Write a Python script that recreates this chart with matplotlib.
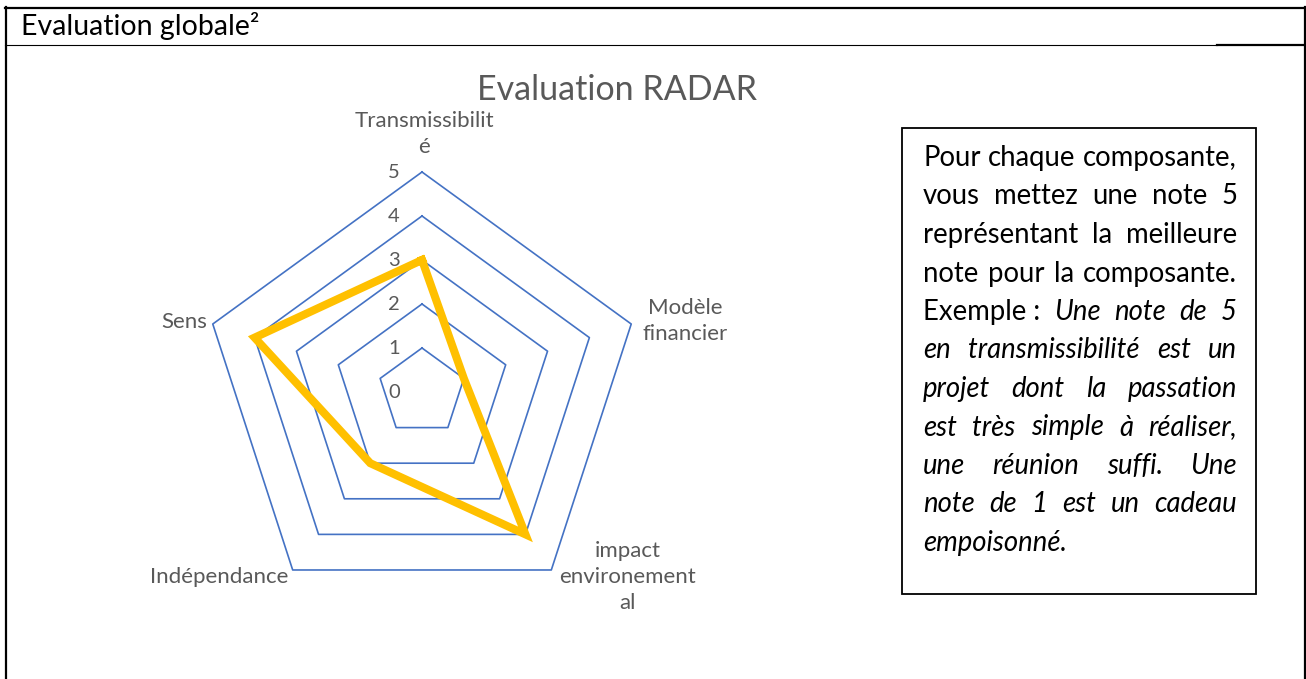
import matplotlib
matplotlib.use("Agg")
import matplotlib.pyplot as plt
import numpy as np
from matplotlib.lines import Line2D
from matplotlib.patches import Rectangle

# données du radar
categories = ["Transmissibilit\né", "Modèle\nfinancier", "impact\nenvironement\nal",
              "Indépendance", "Sens"]
scores = [3, 1, 4, 2, 4]
ring_levels = [1, 2, 3, 4, 5]
tick_labels = ["0", "1", "2", "3", "4", "5"]

# texte de l'encadré (partie normale, partie en italique)
box_lines = [
    ("Pour chaque composante,", ""),
    ("vous mettez une note 5", ""),
    ("représentant la meilleure", ""),
    ("note pour la composante.", ""),
    ("Exemple\u00a0:", "Une note de 5"),
    ("", "en transmissibilité est un"),
    ("", "projet dont la passation"),
    ("", "est très simple à réaliser,"),
    ("", "une réunion suffi. Une"),
    ("", "note de 1 est un cadeau"),
    ("", "empoisonné."),
]

W, H = 1306, 679
GREY = "#595959"
BLUE = "#4472C4"
GOLD = "#FFC000"

plt.rcParams["font.family"] = ["Lato", "DejaVu Sans"]


def fx(px):
    return px / W


def fy(py):
    return 1 - py / H


fig = plt.figure(figsize=(W / 100, H / 100), dpi=100)
fig.patch.set_facecolor("white")

# cadre du tableau
def hline(x0, x1, y, lw):
    fig.add_artist(Line2D([fx(x0), fx(x1)], [fy(y), fy(y)], color="black", lw=lw))


def vline(x, y0, y1, lw):
    fig.add_artist(Line2D([fx(x), fx(x)], [fy(y0), fy(y1)], color="black", lw=lw))


hline(5, 1306, 8, 1.6)
vline(6, 7, 679, 1.6)
vline(1305, 7, 679, 1.6)
hline(5, 1217, 44.5, 0.8)
hline(1217, 1306, 45, 1.6)

fig.text(fx(21), fy(35), "Evaluation globale²", fontsize=20.5, va="baseline", ha="left")

# radar
cx, cy, R = 422, 392, 220
ax = fig.add_axes([fx(cx - R), fy(cy + R), 2 * R / W, 2 * R / H], projection="polar")
ax.set_theta_offset(np.pi / 2)
ax.set_theta_direction(-1)
ax.set_ylim(0, 5)
ax.set_xticks([])
ax.set_yticks([])
ax.grid(False)
ax.spines["polar"].set_visible(False)
ax.patch.set_alpha(0)

n = len(categories)
angles = np.linspace(0, 2 * np.pi, n, endpoint=False)
closed = np.append(angles, angles[0])

for k in ring_levels:
    ax.plot(closed, [k] * (n + 1), color=BLUE, lw=1.2, clip_on=False)

vals = scores + scores[:1]
ax.plot(closed, vals, color=GOLD, lw=5.8, solid_joinstyle="miter", clip_on=False)

for k, lab in enumerate(tick_labels):
    ax.annotate(lab, xy=(0, k), xytext=(-28, -1), textcoords="offset pixels",
                ha="center", va="center", fontsize=14.5, color=GREY,
                annotation_clip=False)

label_offsets = [(2, 38), (54, 3), (76, -7), (-73, -7), (-29, 2)]
for ang, lab, off in zip(angles, categories, label_offsets):
    ax.annotate(lab, xy=(ang, 5), xytext=off, textcoords="offset pixels",
                ha="center", va="center", fontsize=16, color=GREY,
                linespacing=1.4, annotation_clip=False)

fig.text(fx(617), fy(90), "Evaluation RADAR", fontsize=24.5, color=GREY,
         ha="center", va="center")

# encadré
fig.add_artist(Rectangle((fx(902), fy(594)), fx(1256) - fx(902), fy(128) - fy(594),
                         fill=False, edgecolor="black", lw=1.3,
                         transform=fig.transFigure))

renderer = fig.canvas.get_renderer()
BOX_SIZE = 19.8
x_left, x_right = 923, 1237


def text_width(s, style):
    t = fig.text(0, 0, s, fontsize=BOX_SIZE, style=style)
    w = t.get_window_extent(renderer).width
    t.remove()
    return w


space_w = text_width("a a", "normal") - text_width("aa", "normal")

for i, (norm, ital) in enumerate(box_lines):
    y = 166 + 38.5 * i
    tokens = [(w, "normal") for w in norm.split(" ") if w]
    tokens += [(w, "italic") for w in ital.split(" ") if w]
    widths = [text_width(w, s) for w, s in tokens]
    last = i == len(box_lines) - 1
    if last or len(tokens) < 2:
        gap = space_w
    else:
        gap = (x_right - x_left - sum(widths)) / (len(tokens) - 1)
    x = x_left
    for (w, s), wd in zip(tokens, widths):
        fig.text(fx(x), fy(y), w, fontsize=BOX_SIZE, style=s, va="baseline", ha="left")
        x += wd + gap

fig.savefig("out.png", dpi=100)
